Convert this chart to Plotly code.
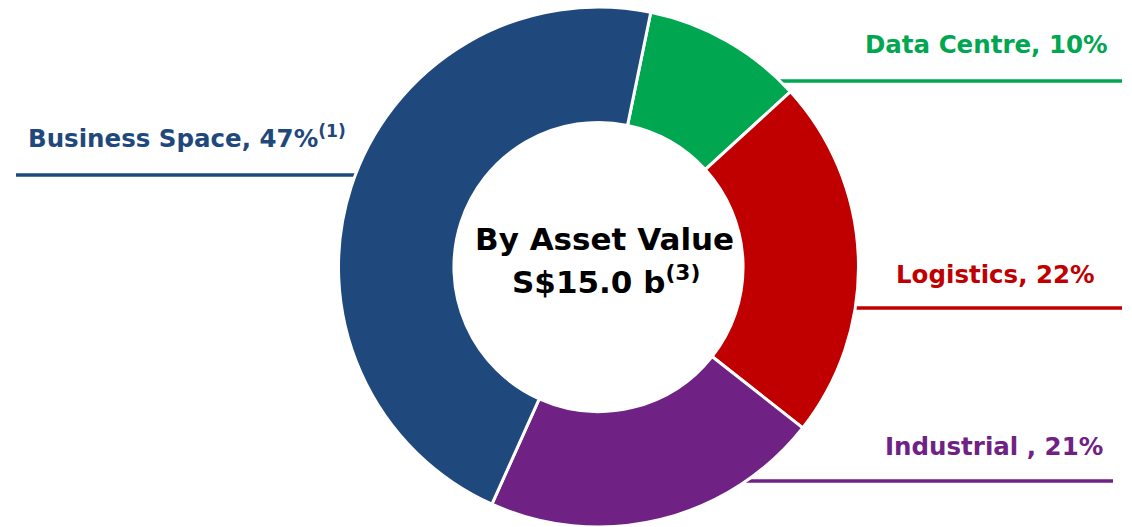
import plotly.graph_objects as go

W, H = 1132, 527

# Data (clockwise from the top)
categories = ["Data Centre", "Logistics", "Industrial", "Business Space"]
shares = [10.0, 22.4, 21.1, 46.5]
label_texts = ["Data Centre, 10%", "Logistics, 22%", "Industrial , 21%",
               "Business Space, 47%<sup>(1)</sup>"]
colors = ["#00A650", "#C00000", "#6F2284", "#1F497C"]
center_lines = ["By Asset Value", "S$15.0 b<sup>(3)</sup>"]


def px(x):
    return x / W


def py(y):
    return 1 - y / H


cx, cy, R = 598.5, 267, 260

fig = go.Figure()
fig.add_trace(go.Pie(
    labels=categories,
    values=shares,
    sort=False,
    direction="clockwise",
    rotation=11.6,
    hole=0.556,
    marker=dict(colors=colors, line=dict(color="white", width=3)),
    textinfo="none",
    hoverinfo="label+percent",
    showlegend=False,
    domain=dict(x=[px(cx - R), px(cx + R)], y=[py(cy + R), py(cy - R)]),
))

FONT = "DejaVu Sans"

# leader lines (x0, x1, y) in pixels
leaders = [
    (770, 1122, 81, colors[0]),
    (840, 1122, 308, colors[1]),
    (740, 1113, 481, colors[2]),
    (16, 370, 175, colors[3]),
]
shapes = []
for x0, x1, y, c in leaders:
    shapes.append(dict(type="line", xref="paper", yref="paper",
                       x0=px(x0), x1=px(x1), y0=py(y), y1=py(y),
                       line=dict(color=c, width=3.5), layer="below"))

annotations = []
# label positions: (x, y, xanchor)
label_pos = [
    (1110, 44, "right"),
    (1097, 274, "right"),
    (1105, 446, "right"),
    (26, 137, "left"),
]
for txt, (x, y, xa), c in zip(label_texts, label_pos, colors):
    annotations.append(dict(
        text=f"<b>{txt}</b>", x=px(x), y=py(y), xref="paper", yref="paper",
        xanchor=xa, yanchor="middle", showarrow=False,
        font=dict(family=FONT, size=24.5, color=c)))

annotations.append(dict(
    text=f"<b>{center_lines[0]}</b>", x=px(604), y=py(239), xref="paper", yref="paper",
    xanchor="center", yanchor="middle", showarrow=False,
    font=dict(family=FONT, size=31, color="#000000")))
annotations.append(dict(
    text=f"<b>{center_lines[1]}</b>", x=px(606), y=py(280), xref="paper", yref="paper",
    xanchor="center", yanchor="middle", showarrow=False,
    font=dict(family=FONT, size=31, color="#000000")))

fig.update_layout(
    width=W, height=H,
    margin=dict(l=0, r=0, t=0, b=0),
    paper_bgcolor="white", plot_bgcolor="white",
    shapes=shapes, annotations=annotations,
)

fig.write_html(
    "out.html",
    config={"displayModeBar": False},
    post_script="document.body.style.margin='0';document.body.style.overflow='hidden';",
)
